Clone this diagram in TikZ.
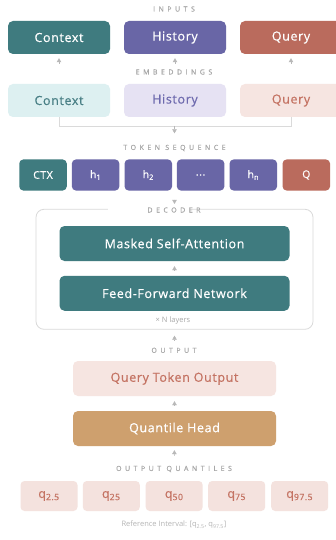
\documentclass[tikz,border=0pt]{standalone}
\usepackage{fontspec}
\setmainfont{Open Sans}
\newfontfamily\boxfont{Open Sans}[FakeBold=0.5, LetterSpace=5]
\newfontfamily\lblfont{Open Sans}[FakeBold=0.4, LetterSpace=50]
\usetikzlibrary{arrows.meta,calc}
\definecolor{ctxD}{HTML}{3F7B7F}
\definecolor{histD}{HTML}{6966A6}
\definecolor{qryD}{HTML}{BA6B5D}
\definecolor{ctxL}{HTML}{DDF0F1}
\definecolor{ctxT}{HTML}{4A8086}
\definecolor{histL}{HTML}{E6E2F3}
\definecolor{histT}{HTML}{6E6AAE}
\definecolor{qryL}{HTML}{F6E5E1}
\definecolor{qryT}{HTML}{C47363}
\definecolor{tanH}{HTML}{CEA06E}
\definecolor{qbox}{HTML}{F4E2DE}
\definecolor{labg}{HTML}{A8A8A8}
\definecolor{arrg}{HTML}{B8B8B8}
\definecolor{frameg}{HTML}{DADADA}
\tikzset{
  bigbox/.style={rounded corners=5pt, inner sep=0pt, minimum height=33pt, minimum width=102pt, font=\boxfont\fontsize{12.5}{14}\selectfont},
  tokbox/.style={rounded corners=4pt, inner sep=0pt, minimum height=31pt, minimum width=47.5pt, fill=histD, text=white, font=\boxfont\fontsize{10.5}{12}\selectfont},
  widebox/.style={rounded corners=5pt, inner sep=0pt, minimum height=35pt, font=\boxfont\fontsize{12.5}{14}\selectfont},
  qbx/.style={rounded corners=4pt, inner sep=0pt, minimum height=30pt, minimum width=57pt, fill=qbox, text=qryT, font=\boxfont\fontsize{12.5}{13}\selectfont},
  lbl/.style={font=\lblfont\fontsize{7}{8}\selectfont, text=labg, inner sep=1pt},
  small/.style={font=\fontsize{7.5}{9}\selectfont, inner sep=1pt},
  arr/.style={-{Triangle[width=4.5pt,length=4pt]}, draw=arrg, line width=0.4pt},
  brk/.style={draw=frameg, line width=0.8pt},
}
\begin{document}
\begin{tikzpicture}[x=1pt,y=-1pt]
\useasboundingbox[fill=white] (0,0) rectangle (336,540);
\clip (0,0) rectangle (336,540);
% inputs
\node[lbl] (linputs) at (174,9) {INPUTS};
\node[bigbox, fill=ctxD, text=white] (ctx) at (59,37.5) {Context};
\node[bigbox, fill=histD, text=white] (hist) at (175,37.5) {History};
\node[bigbox, fill=qryD, text=white] (qry) at (291,37.5) {Query};
% embeddings
\node[lbl] (lemb) at (174,72) {EMBEDDINGS};
\node[bigbox, fill=ctxL, text=ctxT] (ectx) at (59,100.5) {Context};
\node[bigbox, fill=histL, text=histT] (ehist) at (175,100.5) {History};
\node[bigbox, fill=qryL, text=qryT] (eqry) at (291,100.5) {Query};
\foreach \a/\b in {ectx/ctx, ehist/hist, eqry/qry}
  \draw[arr, shorten >=4pt, shorten <=20pt] (\a) -- (\b);
% bracket
\coordinate (bl) at ($(ectx.south)+(0,9)$);
\coordinate (bm) at (174.5,126);
\draw[brk] (ectx.south) -- (bl) -- (bl -| eqry.south) -- (eqry.south);
% tokens
\node[lbl] (ltok) at (174.5,148) {TOKEN SEQUENCE};
\node[tokbox, fill=ctxD] (tctx) at (43,175) {CTX};
\node[tokbox] (th1) at (95.6,175) {h\textsubscript{1}};
\node[tokbox] (th2) at (148.3,175) {h\textsubscript{2}};
\node[tokbox] (tdots) at (200.6,175) {...};
\node[tokbox] (thn) at (253.3,175) {h\textsubscript{n}};
\node[tokbox, fill=qryD] (tq) at (306.3,175) {Q};
\draw[arr, shorten >=26pt] (bm) -- (bm |- th2.north);
% decoder
\node[draw=frameg, line width=0.8pt, rounded corners=8pt, minimum width=277pt, minimum height=120pt, inner sep=0pt] (dec) at (174.5,269.3) {};
\node[fill=white, minimum width=84pt, minimum height=4pt, inner sep=0pt] (decgap) at (150,209.3) {};
\node[lbl] (ldec) at (174,210) {DECODER};
\draw[arr, shorten >=5pt, shorten <=9pt] (dec.north |- th2.south) -- (dec.north);
\node[widebox, fill=ctxD, text=white, minimum width=230pt] (msa) at (174.5,243.5) {Masked Self-Attention};
\node[widebox, fill=ctxD, text=white, minimum width=230pt] (ffn) at (174.5,293.3) {Feed-Forward Network};
\draw[arr, shorten >=5pt, shorten <=6pt] (ffn) -- (msa);
\node[small, text=labg] (nl) at (173,320.7) {× N layers};
% output
\node[lbl] (lout) at (174,350.3) {OUTPUT};
\node[widebox, fill=qryL, text=qryT, minimum width=203pt] (qto) at (174.5,378.5) {Query Token Output};
\node[widebox, fill=tanH, text=white, minimum width=203pt] (qh) at (174.5,428.5) {Quantile Head};
\draw[arr, shorten >=6pt, shorten <=20pt] (qto) -- (dec);
\draw[arr, shorten >=5pt, shorten <=6pt] (qh) -- (qto);
% quantiles
\node[lbl] (lq) at (174,469) {OUTPUT QUANTILES};
\node[qbx] (q1) at (49,496) {q\textsubscript{2.5}};
\node[qbx] (q2) at (111.3,496) {q\textsubscript{25}};
\node[qbx] (q3) at (174.2,496) {q\textsubscript{50}};
\node[qbx] (q4) at (236.7,496) {q\textsubscript{75}};
\node[qbx] (q5) at (299.7,496) {q\textsubscript{97.5}};
\draw[arr, shorten >=4pt, shorten <=25pt] (q3) -- (qh);
\node[small, text=labg!85] (refi) at (174,525) {Reference Interval: [q\textsubscript{2.5}, q\textsubscript{97.5}]};
\end{tikzpicture}
\end{document}
